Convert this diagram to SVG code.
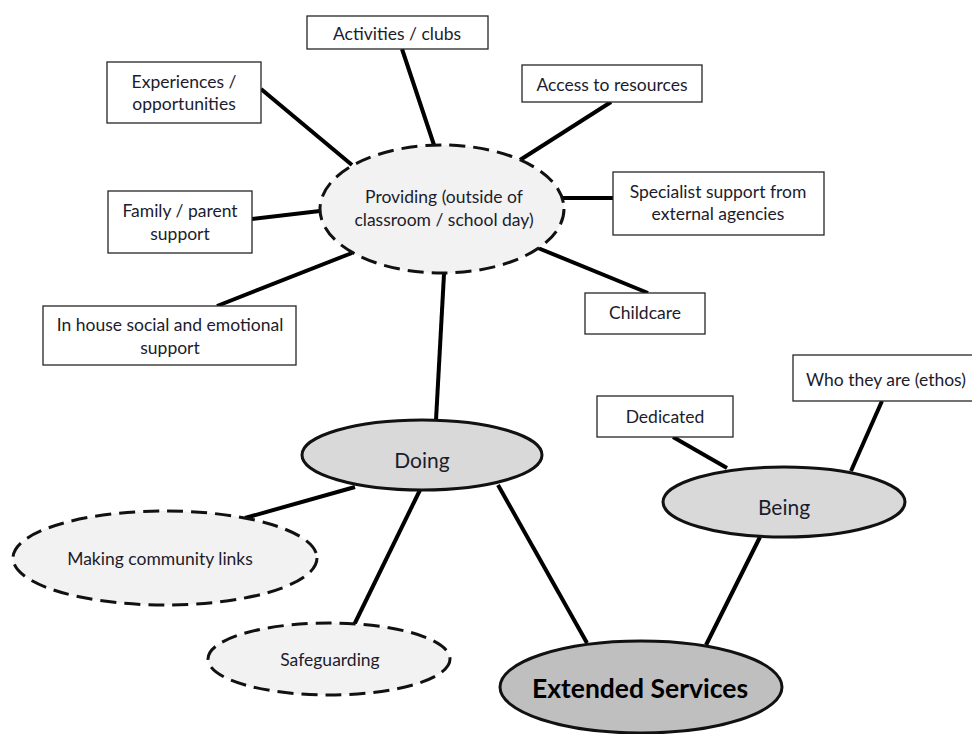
<svg xmlns="http://www.w3.org/2000/svg" width="972" height="734" viewBox="0 0 972 734">
  <style>
    text { font-family: Lato, "Open Sans", "Liberation Sans", sans-serif; font-size: 17.5px; fill: #1c1c2c; text-anchor: middle; }
    .box { fill: #ffffff; stroke: #262626; stroke-width: 1.3; }
    .dash { fill: #f2f2f2; stroke: #111; stroke-width: 3; stroke-dasharray: 16 8; }
    .mid { fill: #d9d9d9; stroke: #111; stroke-width: 3; }
    .core { fill: #bfbfbf; stroke: #111; stroke-width: 3; }
    .link { stroke: #000; stroke-width: 4; fill: none; }
    .big { font-size: 21px; }
  </style>
  <rect width="972" height="734" fill="#ffffff"/>

  <g id="connectors">
    <line class="link" x1="402" y1="49" x2="434" y2="145"/>
    <line class="link" x1="261" y1="89" x2="352" y2="165"/>
    <line class="link" x1="252" y1="219" x2="320" y2="211"/>
    <line class="link" x1="217" y1="306" x2="352" y2="253"/>
    <line class="link" x1="611" y1="102" x2="520" y2="160"/>
    <line class="link" x1="613" y1="198" x2="562" y2="198"/>
    <line class="link" x1="648" y1="293" x2="538" y2="248"/>
    <line class="link" x1="444" y1="274" x2="436" y2="420"/>
    <line class="link" x1="355" y1="487" x2="245" y2="518"/>
    <line class="link" x1="420" y1="490" x2="354" y2="625"/>
    <line class="link" x1="498" y1="485" x2="587" y2="643"/>
    <line class="link" x1="760" y1="537" x2="706" y2="645"/>
    <line class="link" x1="673" y1="437" x2="727" y2="468"/>
    <line class="link" x1="882" y1="401" x2="851" y2="471"/>
  </g>

  <g id="activities">
    <rect class="box" x="307" y="16" width="181" height="33"/>
    <text x="397" y="40">Activities / clubs</text>
  </g>
  <g id="experiences">
    <rect class="box" x="107" y="62" width="154" height="61"/>
    <text x="184" y="88">Experiences /</text>
    <text x="184" y="110">opportunities</text>
  </g>
  <g id="family">
    <rect class="box" x="108" y="191" width="144" height="62"/>
    <text x="180" y="217">Family / parent</text>
    <text x="180" y="240">support</text>
  </g>
  <g id="in-house">
    <rect class="box" x="43" y="306" width="253" height="59"/>
    <text x="170" y="331">In house social and emotional</text>
    <text x="170" y="354">support</text>
  </g>
  <g id="access">
    <rect class="box" x="522" y="65" width="180" height="37"/>
    <text x="612" y="91">Access to resources</text>
  </g>
  <g id="specialist">
    <rect class="box" x="613" y="172" width="211" height="63"/>
    <text x="718" y="198">Specialist support from</text>
    <text x="718" y="220">external agencies</text>
  </g>
  <g id="childcare">
    <rect class="box" x="585" y="293" width="120" height="41"/>
    <text x="645" y="319">Childcare</text>
  </g>
  <g id="dedicated">
    <rect class="box" x="597" y="396" width="136" height="41"/>
    <text x="665" y="423">Dedicated</text>
  </g>
  <g id="ethos">
    <rect class="box" x="793" y="355" width="180" height="46"/>
    <text x="886" y="386">Who they are (ethos)</text>
  </g>

  <g id="providing">
    <ellipse class="dash" cx="442" cy="209" rx="122" ry="64"/>
    <text x="444" y="203">Providing (outside of</text>
    <text x="444" y="226">classroom / school day)</text>
  </g>
  <g id="doing">
    <ellipse class="mid" cx="422" cy="455" rx="120" ry="35"/>
    <text class="big" x="422" y="468">Doing</text>
  </g>
  <g id="being">
    <ellipse class="mid" cx="784" cy="502" rx="121" ry="35"/>
    <text class="big" x="784" y="515">Being</text>
  </g>
  <g id="community">
    <ellipse class="dash" cx="165" cy="558" rx="152" ry="47"/>
    <text x="160" y="565">Making community links</text>
  </g>
  <g id="safeguarding">
    <ellipse class="dash" cx="329" cy="659" rx="121" ry="36"/>
    <text x="330" y="666">Safeguarding</text>
  </g>
  <g id="extended">
    <ellipse class="core" cx="641" cy="687" rx="141" ry="46"/>
    <text x="640" y="698" style="font-size:26.5px;font-weight:bold;fill:#000">Extended Services</text>
  </g>
</svg>
